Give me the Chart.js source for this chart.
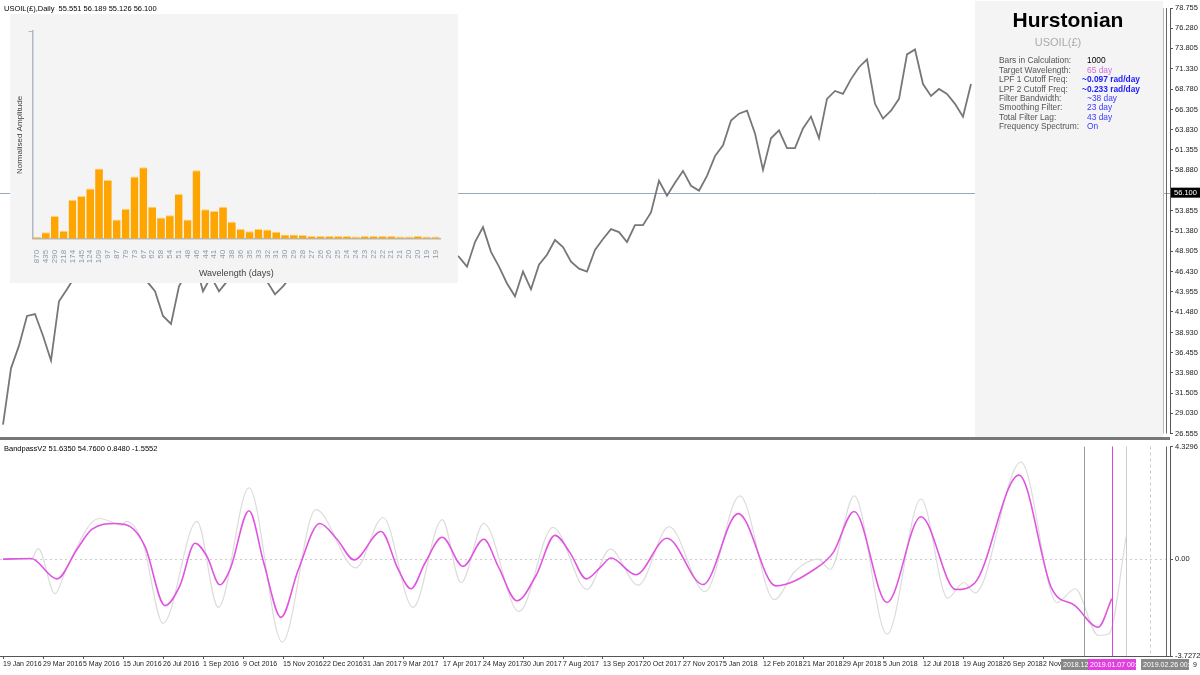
<!DOCTYPE html>
<html>
<head>
<meta charset="utf-8">
<script src="https://cdn.jsdelivr.net/npm/chart.js@4"></script>
<style>
  body { margin: 0; background: #fff; font-family: "Liberation Sans", sans-serif; }
  #wrap { position: relative; width: 1200px; height: 675px; overflow: hidden; }
  canvas { position: absolute; }
  #panel { position: absolute; left: 975px; top: 1px; width: 188px; height: 437px; background: #f4f4f4; }
  #inset { position: absolute; left: 10px; top: 14px; width: 448px; height: 269px; background: #f4f4f4; }
  #sep { position: absolute; left: 0; top: 437px; width: 1170px; height: 3px; background: #777; }
  .txt { position: absolute; font-size: 7.5px; color: #000; white-space: nowrap; }
</style>
</head>
<body>
<div id="wrap">
  <canvas id="priceChart" style="left:0;top:0" width="1200" height="440"></canvas>
  <div id="panel"></div>
  <canvas id="infoCanvas" style="left:975px;top:0" width="190" height="140"></canvas>
  <div id="inset"><canvas id="specChart" width="448" height="269"></canvas></div>
  <div id="sep"></div>
  <canvas id="oscChart" style="left:0;top:440px" width="1200" height="235"></canvas>
  <div class="txt" style="left:4px;top:4px">USOIL(£),Daily&nbsp; 55.551 56.189 55.126 56.100</div>
  <div class="txt" style="left:4px;top:444px">BandpassV2 51.6350 54.7600 0.8480 -1.5552</div>
</div>
<script>
// Price closes, one value per 8px step (bar index)
var priceValues = [27.65, 34.55, 37.33, 40.97, 41.21, 38.54, 35.52, 42.78, 44.24, 45.81,
    47.63, 49.44, 50.66, 51.26, 50.05, 50.66, 49.44, 47.99, 45.21, 44.00,
    40.97, 40.00, 44.60, 46.42, 47.63, 44.00, 45.81, 44.00, 45.21, 47.02,
    48.84, 50.05, 47.63, 45.21, 43.63, 44.60, 45.81, 46.78, 47.63, 49.44,
    51.26, 52.47, 52.84, 53.08, 52.47, 52.84, 53.08, 52.47, 52.11, 50.05,
    48.84, 49.44, 50.05, 50.66, 49.44, 47.99, 48.84, 48.23, 47.02, 50.05,
    51.87, 48.84, 47.02, 44.96, 43.39, 46.42, 44.24, 47.26, 48.48, 50.29,
    49.44, 47.63, 46.78, 46.42, 49.08, 50.41, 51.62, 51.26, 50.05, 52.11,
    52.11, 53.68, 57.56, 55.74, 57.32, 58.77, 56.95, 56.35, 58.16, 60.59,
    61.92, 64.95, 65.79, 66.16, 63.37, 58.89, 62.77, 63.74, 61.56, 61.56,
    63.98, 65.43, 62.77, 67.61, 68.58, 68.22, 70.03, 71.49, 72.45, 67.00,
    65.19, 66.16, 67.61, 73.06, 73.67, 69.43, 67.97, 68.82, 68.22, 67.00,
    65.43, 69.43];
var lastBarIndex = 145;
var lastBarRange = [55.13, 57.8];
var currentPrice = 56.1;
var priceTicks = [78.755, 76.280, 73.805, 71.330, 68.780, 66.305, 63.830, 61.355, 58.880,
    53.855, 51.380, 48.905, 46.430, 43.955, 41.480, 38.930, 36.455, 33.980, 31.505, 29.030, 26.555];

// Frequency spectrum inset
var wavelengths = ["870","435","290","218","174","145","124","109","97","87","79","73","67","62","58",
    "54","51","48","46","44","41","40","38","36","35","33","32","31","30","29","28","27",
    "26","26","25","24","24","23","22","22","21","21","20","20","19","19"];
var amplitudes = [1.0, 3.2, 11, 3.9, 18.8, 20.6, 24.2, 33.8, 28.3, 9.3, 14.5, 30, 34.5, 15.5, 10.3,
    11.4, 21.6, 9.3, 33, 14.2, 13.4, 15.5, 8.2, 4.8, 3.7, 4.8, 4.5, 3.4, 2.1, 2.1, 1.8, 1.4,
    1.4, 1.4, 1.4, 1.4, 1.1, 1.4, 1.4, 1.4, 1.4, 1.1, 1.1, 1.4, 1.1, 1.1];

// Bandpass oscillator (bar index, value)
var bandIdx = [0, 3.5, 6.75, 9.25, 11.1, 14, 15.9, 17.75, 20.25, 22.1, 24, 25.5, 27.1, 28.4, 30.75,
    32.6, 34.75, 36.9, 39.6, 41.75, 43.9, 47.25, 49.4, 51, 52.75, 54.9, 57.5, 60.1, 61.9, 64.25,
    66.6, 69, 70.9, 72.9, 74.6, 76, 79.1, 83, 87.5, 91.9, 96.6, 101.4, 103.75, 106.4, 110.5,
    114.75, 119.1, 121.5, 127, 131.1, 134, 136.9, 138.6];
var bandValues = [0, 0.02, -0.76, 0.38, 1.14, 1.37, 1.25, 0.49, -1.79, -1.03, 0.61, 0.10, -0.99, -0.38, 1.86,
    -0.15, -2.24, -0.42, 1.37, 0.76, -0.03, 1.06, -0.4, -1.14, -0.15, 0.84, -0.28, 0.76, -0.28, -1.60,
    -0.65, 0.91, 0.23, -0.76, -0.34, 0.04, -0.6, 0.80, -0.98, 1.75, -1.03, -0.4, 0.24, 1.83, -1.67,
    1.63, -1.17, -0.91, 3.23, -1.14, -1.79, -2.62, -1.52];
var rawIdx = [0, 3.5, 4.4, 6.5, 8, 12, 15, 15.4, 17.5, 20, 24.25, 26.9, 30.75, 34.9, 39.1, 44.1,
    47.5, 51.25, 54.9, 57.25, 60.1, 64.5, 68.75, 73, 75.9, 79.4, 83.25, 87.75, 92.1, 96.4, 99,
    101.9, 103.4, 106.4, 110.5, 114.75, 118.1, 120.1, 121.5, 127.25, 131.75, 134, 136.9, 138.25, 140.4];
var rawValues = [0, 0, 0.4, -1.33, -0.3, 1.56, 1.3, 1.45, 0.6, -2.47, 1.45, -1.86, 2.74, -3.19, 1.90, -0.34,
    1.60, -1.86, 1.52, -0.91, 1.37, -2.02, 1.22, -1.17, 0.38, -1.0, 1.25, -1.25, 2.43, -1.56, -0.47,
    0, -0.4, 2.43, -2.89, 2.31, -1.5, -0.9, -1.3, 3.73, -1.67, -1.14, -2.93, -2.87, 0.87];
var oscTicks = [4.3296, 0, -3.7272];

var dateLabels = ["19 Jan 2016","29 Mar 2016","5 May 2016","15 Jun 2016","26 Jul 2016","1 Sep 2016",
    "9 Oct 2016","15 Nov 2016","22 Dec 2016","31 Jan 2017","9 Mar 2017","17 Apr 2017","24 May 2017",
    "30 Jun 2017","7 Aug 2017","13 Sep 2017","20 Oct 2017","27 Nov 2017","5 Jan 2018","12 Feb 2018",
    "21 Mar 2018","29 Apr 2018","5 Jun 2018","12 Jul 2018","19 Aug 2018","26 Sep 2018","2 Nov 2018"];

// cursor lines in bar-index units
var oscMarkers = [
    { at: 135.1, color: "#999", dash: [] },
    { at: 138.6, color: "#e040e0", dash: [] },
    { at: 140.4, color: "#ccc", dash: [] },
    { at: 143.4, color: "#ccc", dash: [3, 3] },
    { at: 145.4, color: "#666", dash: [] }
];
var priceMarkers = [
    { at: 145.0, color: "#bbb", dash: [] },
    { at: 145.4, color: "#666", dash: [] }
];

var FONT = "Liberation Sans";
Chart.defaults.font.family = FONT;
Chart.defaults.animation = false;
var X_MIN = -0.375, X_MAX = 145.875;

function markerPlugin(list) {
    return {
        id: "markers",
        afterDatasetsDraw(chart) {
            var ctx = chart.ctx, xs = chart.scales.x, a = chart.chartArea;
            ctx.save();
            list.forEach(m => {
                var px = Math.round(xs.getPixelForValue(m.at)) + 0.5;
                ctx.strokeStyle = m.color;
                ctx.setLineDash(m.dash);
                ctx.lineWidth = 1;
                ctx.beginPath();
                ctx.moveTo(px, a.top);
                ctx.lineTo(px, a.bottom);
                ctx.stroke();
            });
            ctx.restore();
        }
    };
}

// Main price chart
var priceLine = {
    id: "priceLine",
    beforeDatasetsDraw(chart) {
        var ctx = chart.ctx, y = Math.round(chart.scales.y.getPixelForValue(currentPrice)) + 0.5;
        ctx.save();
        ctx.strokeStyle = "#9aa8bc";
        ctx.beginPath();
        ctx.moveTo(0, y);
        ctx.lineTo(chart.chartArea.right, y);
        ctx.stroke();
        ctx.restore();
    },
    afterDraw(chart) {
        var ctx = chart.ctx, y = chart.scales.y.getPixelForValue(currentPrice);
        var x = chart.chartArea.right + 1;
        ctx.save();
        ctx.fillStyle = "#000";
        ctx.fillRect(x, y - 5, 29, 10);
        ctx.fillStyle = "#fff";
        ctx.font = "7.5px " + FONT;
        ctx.textBaseline = "middle";
        ctx.fillText(currentPrice.toFixed(3), x + 3, y);
        ctx.restore();
    }
};

new Chart(document.getElementById("priceChart"), {
    type: "line",
    data: {
        datasets: [
            {
                data: priceValues.map((v, i) => ({ x: i, y: v })),
                borderColor: "#777",
                borderWidth: 1.8,
                pointRadius: 0,
                tension: 0
            },
            {
                data: lastBarRange.map(v => ({ x: lastBarIndex, y: v })),
                borderColor: "#777",
                borderWidth: 1.6,
                pointRadius: 0
            }
        ]
    },
    options: {
        responsive: false,
        layout: { padding: { top: 8, bottom: 1 } },
        plugins: { legend: { display: false }, tooltip: { enabled: false } },
        scales: {
            x: { type: "linear", min: X_MIN, max: X_MAX, display: false },
            y: {
                position: "right",
                min: 26.555, max: 78.755,
                afterBuildTicks: s => { s.ticks = priceTicks.map(v => ({ value: v })); },
                afterFit: s => { s.width = 30; },
                border: { display: true, color: "#555" },
                grid: { drawOnChartArea: false, tickLength: 3, color: "#555" },
                ticks: {
                    autoSkip: false, padding: 2, color: "#222",
                    font: { size: 7.5 },
                    callback: v => v.toFixed(3)
                }
            }
        }
    },
    plugins: [priceLine, markerPlugin(priceMarkers)]
});

// Info panel text
(function () {
    var ctx = document.getElementById("infoCanvas").getContext("2d");
    ctx.font = "bold 21px " + FONT;
    ctx.fillStyle = "#000";
    ctx.textAlign = "center";
    ctx.textBaseline = "middle";
    ctx.fillText("Hurstonian", 93, 21);
    ctx.font = "11px " + FONT;
    ctx.fillStyle = "#aaa";
    ctx.fillText("USOIL(£)", 83, 43);
    var rows = [
        ["Bars in Calculation:", "1000", "#000", false],
        ["Target Wavelength:", "65 day", "#d070d8", false],
        ["LPF 1 Cutoff Freq:", "~0.097 rad/day", "#1a1aff", true],
        ["LPF 2 Cutoff Freq:", "~0.233 rad/day", "#1a1aff", true],
        ["Filter Bandwidth:", "~38 day", "#3a3aff", false],
        ["Smoothing Filter:", "23 day", "#3a3aff", false],
        ["Total Filter Lag:", "43 day", "#3a3aff", false],
        ["Frequency Spectrum:", "On", "#3a3aff", false]
    ];
    ctx.textAlign = "left";
    rows.forEach((r, i) => {
        var y = 61 + i * 9.4;
        ctx.font = "8.4px " + FONT;
        ctx.fillStyle = "#555";
        ctx.fillText(r[0], 24, y);
        ctx.font = (r[3] ? "bold " : "") + "8.4px " + FONT;
        ctx.fillStyle = r[2];
        ctx.fillText(r[1], r[3] ? 107 : 112, y);
    });
})();

// Spectrum inset
new Chart(document.getElementById("specChart"), {
    type: "bar",
    data: {
        labels: wavelengths,
        datasets: [{
            data: amplitudes,
            backgroundColor: "#ffa500",
            borderColor: "#ffd27a",
            borderWidth: { top: 1, left: 0, right: 0, bottom: 0 },
            categoryPercentage: 1,
            barPercentage: 0.88
        }]
    },
    options: {
        responsive: false,
        layout: { padding: { top: 17, right: 18, left: 1, bottom: 0 } },
        plugins: { legend: { display: false }, tooltip: { enabled: false } },
        scales: {
            x: {
                grid: { display: false },
                border: { color: "#b0b8c8", width: 1.5 },
                title: { display: true, text: "Wavelength (days)", color: "#444", font: { size: 9 }, padding: { top: 2, bottom: 4 } },
                ticks: { color: "#8a98ae", font: { size: 8 }, maxRotation: 90, minRotation: 90, autoSkip: false, padding: 3 }
            },
            y: {
                min: 0, max: 100,
                border: { color: "#b0b8c8", width: 1.5 },
                grid: { drawOnChartArea: false, tickLength: 4, color: "#b0b8c8" },
                afterBuildTicks: s => { s.ticks = [{ value: 100 }]; },
                title: { display: true, text: "Normalised Amplitude", color: "#444", font: { size: 8 }, padding: 4 },
                ticks: { display: false }
            }
        }
    }
});

// Oscillator pane
var oscExtras = {
    id: "oscExtras",
    beforeDatasetsDraw(chart) {
        var ctx = chart.ctx, y = Math.round(chart.scales.y.getPixelForValue(0)) + 0.5;
        ctx.save();
        ctx.strokeStyle = "#ccc";
        ctx.setLineDash([2, 3]);
        ctx.beginPath();
        ctx.moveTo(0, y);
        ctx.lineTo(chart.chartArea.right, y);
        ctx.stroke();
        ctx.restore();
    },
    afterDraw(chart) {
        var ctx = chart.ctx, b = chart.chartArea.bottom + 2;
        var boxes = [
            [1061, 27, "#888", "2018.12.1"],
            [1088, 48, "#e040e0", "2019.01.07 00:00"],
            [1141, 48, "#888", "2019.02.26 00:00"]
        ];
        ctx.save();
        ctx.font = "7px " + FONT;
        ctx.textBaseline = "middle";
        boxes.forEach(bx => {
            ctx.fillStyle = bx[2];
            ctx.fillRect(bx[0], b + 1, bx[1], 11);
            ctx.fillStyle = "#fff";
            ctx.save();
            ctx.beginPath();
            ctx.rect(bx[0], b + 1, bx[1], 11);
            ctx.clip();
            ctx.fillText(bx[3], bx[0] + 2, b + 7);
            ctx.restore();
        });
        ctx.fillStyle = "#222";
        ctx.fillText("9", 1193, b + 7);
        ctx.restore();
    }
};

new Chart(document.getElementById("oscChart"), {
    type: "line",
    data: {
        datasets: [
            {
                data: bandIdx.map((x, i) => ({ x: x, y: bandValues[i] })),
                borderColor: "#e055e0",
                borderWidth: 1.6,
                pointRadius: 0,
                cubicInterpolationMode: "monotone"
            },
            {
                data: rawIdx.map((x, i) => ({ x: x, y: rawValues[i] })),
                borderColor: "#dcdcdc",
                borderWidth: 1.2,
                pointRadius: 0,
                cubicInterpolationMode: "monotone"
            }
        ]
    },
    options: {
        responsive: false,
        layout: { padding: { top: 6 } },
        plugins: { legend: { display: false }, tooltip: { enabled: false } },
        scales: {
            x: {
                type: "linear", min: X_MIN, max: X_MAX,
                afterBuildTicks: s => { s.ticks = dateLabels.map((d, i) => ({ value: i * 5 })); },
                afterFit: s => { s.height = 19; },
                border: { display: true, color: "#555" },
                grid: { drawOnChartArea: false, tickLength: 3, color: "#555" },
                ticks: {
                    autoSkip: false, maxRotation: 0, align: "start", padding: 1,
                    color: "#222", font: { size: 7 },
                    callback: v => dateLabels[Math.round(v / 5)]
                }
            },
            y: {
                position: "right",
                min: -3.7272, max: 4.3296,
                afterBuildTicks: s => { s.ticks = oscTicks.map(v => ({ value: v })); },
                afterFit: s => { s.width = 30; },
                border: { display: true, color: "#555" },
                grid: { drawOnChartArea: false, tickLength: 3, color: "#555" },
                ticks: {
                    autoSkip: false, padding: 2, color: "#222",
                    font: { size: 7.5 },
                    callback: v => v === 0 ? "0.00" : v.toFixed(4)
                }
            }
        }
    },
    plugins: [oscExtras, markerPlugin(oscMarkers)]
});
</script>
</body>
</html>
